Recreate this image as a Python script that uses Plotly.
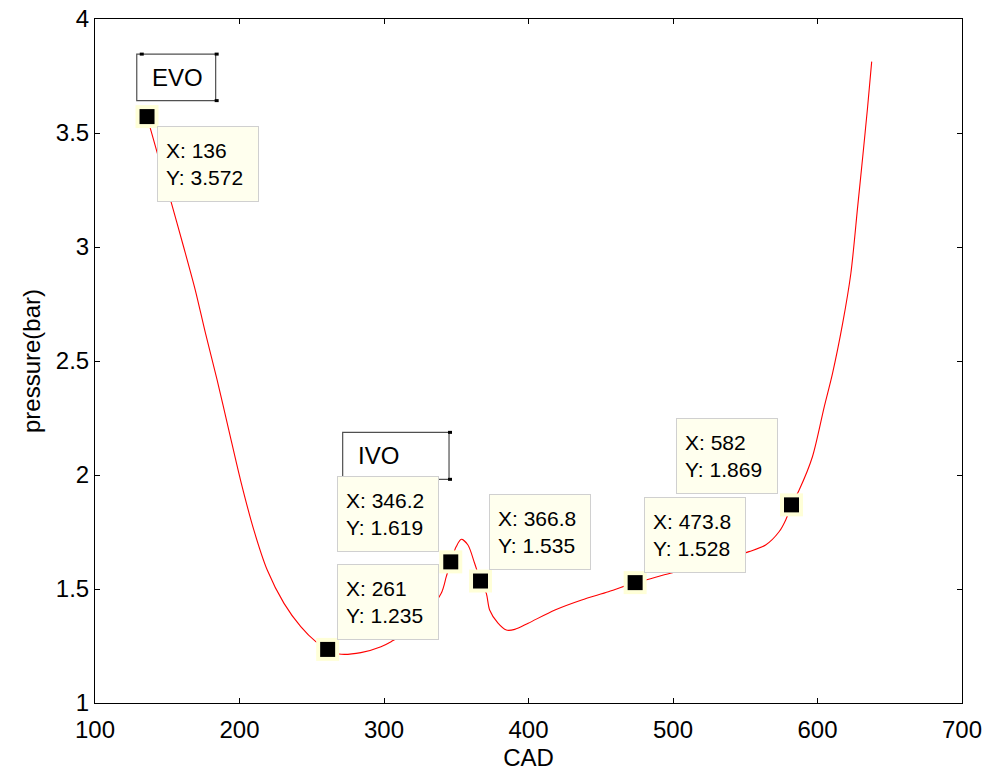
import plotly.graph_objects as go

# Pressure trace over crank angle
cad = [136, 152.6, 161.3, 169.4, 176.4, 184.5, 192.6, 200.7, 209.9, 219.2, 230.8,
       242.4, 252.8, 261, 268.8, 284, 297.9, 304.9, 322.2, 339.6, 343.1, 346.2,
       350, 353.5, 358.1, 362.7, 366.8, 370.8, 373.1, 378.9, 384.7, 390.5, 399.8,
       418.3, 436.8, 455.3, 473.8, 480.8, 498.1, 520.1, 552.6, 564.1, 573.4, 578,
       582, 587.3, 596.5, 604.7, 610.4, 617.4, 623.1, 627.8, 631.3, 634.7, 637.5]
pressure = [3.572, 3.199, 3.001, 2.811, 2.623, 2.417, 2.197, 1.978, 1.759, 1.583, 1.437,
            1.335, 1.269, 1.235, 1.215, 1.221, 1.247, 1.269, 1.338, 1.481, 1.554, 1.619,
            1.686, 1.718, 1.693, 1.613, 1.535, 1.481, 1.408, 1.350, 1.320, 1.323, 1.350,
            1.408, 1.452, 1.488, 1.528, 1.539, 1.569, 1.601, 1.664, 1.693, 1.751, 1.803,
            1.869, 1.934, 2.080, 2.300, 2.446, 2.665, 2.885, 3.177, 3.396, 3.615, 3.813]

# Data tips
tip_x = [136, 261, 346.2, 366.8, 473.8, 582]
tip_y = [3.572, 1.235, 1.619, 1.535, 1.528, 1.869]
tip_labels = ["X: 136<br>Y: 3.572", "X: 261<br>Y: 1.235", "X: 346.2<br>Y: 1.619",
              "X: 366.8<br>Y: 1.535", "X: 473.8<br>Y: 1.528", "X: 582<br>Y: 1.869"]
# pixel offsets of each tip box centre from its point
tip_dx = [61, 60, -63, 59, 60, -64]
tip_dy = [47, -47, -48, -49, -48, -49]

x_ticks = [100, 200, 300, 400, 500, 600, 700]
y_ticks = [1, 1.5, 2, 2.5, 3, 3.5, 4]

FONT = "Liberation Sans, Arial, sans-serif"
TIP_FILL = "#FFFFEE"
HALO = "#FFFFD8"

fig = go.Figure()
fig.add_trace(go.Scatter(x=cad, y=pressure, mode="lines",
                         line=dict(color="#FF0000", width=1.1, shape="spline", smoothing=0.8),
                         hoverinfo="skip", showlegend=False))
fig.add_trace(go.Scatter(x=tip_x, y=tip_y, mode="markers",
                         marker=dict(symbol="square", size=23, color=HALO),
                         hoverinfo="skip", showlegend=False))
fig.add_trace(go.Scatter(x=tip_x, y=tip_y, mode="markers",
                         marker=dict(symbol="square", size=15, color="black"),
                         hoverinfo="skip", showlegend=False))

annotations = []
for x, y, t, dx, dy in zip(tip_x, tip_y, tip_labels, tip_dx, tip_dy):
    annotations.append(dict(
        x=x, y=y, xref="x", yref="y", text=t, showarrow=True,
        ax=dx, ay=dy, arrowcolor="rgba(0,0,0,0)", arrowwidth=0.1,
        font=dict(family=FONT, size=21, color="black"), align="left",
        bgcolor=TIP_FILL, bordercolor="#D0D0D0", borderwidth=1,
        borderpad=8, width=84, height=58))

# Text boxes marking the valve events
events = [("EVO", 128.9, 183.5, 3.642, 3.846),
          ("IVO", 271.4, 345.0, 1.981, 2.187)]
shapes = []
for name, x0, x1, y0, y1 in events:
    shapes.append(dict(type="rect", xref="x", yref="y", x0=x0, x1=x1, y0=y0, y1=y1,
                       line=dict(color="#505050", width=1.2), fillcolor="white",
                       layer="above"))
    # small selection handles at the corners
    for hx, hy in [(x1, y1), (x1, y0)]:
        shapes.append(dict(type="rect", xref="x", yref="y",
                           xsizemode="pixel", ysizemode="pixel",
                           xanchor=hx, yanchor=hy, x0=-1, x1=3, y0=-1.5, y1=1.5,
                           line=dict(width=0), fillcolor="black", layer="above"))
    annotations.append(dict(x=x0, y=(y0 + y1) / 2, xref="x", yref="y", text=name,
                            showarrow=False, xanchor="left", yanchor="middle",
                            xshift=13, font=dict(family=FONT, size=24, color="black")))
shapes.append(dict(type="rect", xref="x", yref="y", xsizemode="pixel", ysizemode="pixel",
                   xanchor=events[0][1], yanchor=events[0][4], x0=3, x1=7, y0=-1.5, y1=1.5,
                   line=dict(width=0), fillcolor="black", layer="above"))

axis_common = dict(showgrid=False, zeroline=False, showline=True, linecolor="black",
                   linewidth=1, mirror="allticks", ticks="inside", ticklen=5,
                   tickwidth=1, tickcolor="black", automargin=False,
                   tickfont=dict(family=FONT, size=24, color="black"))

fig.update_layout(
    width=986, height=771,
    margin=dict(l=95, r=24, t=19, b=68),
    paper_bgcolor="white", plot_bgcolor="white",
    xaxis=dict(range=[100, 700], tickvals=x_ticks, ticktext=[str(v) for v in x_ticks],
               ticklabelstandoff=5,
               title=dict(text="CAD", font=dict(family=FONT, size=24, color="black"),
                          standoff=8),
               **axis_common),
    yaxis=dict(range=[1, 4], tickvals=y_ticks, ticktext=["1", "1.5", "2", "2.5", "3", "3.5", "4"],
               title=dict(text="pressure(bar)", font=dict(family=FONT, size=24, color="black"),
                          standoff=8),
               **axis_common),
    shapes=shapes,
    annotations=annotations,
)

fig.write_html("out.html")
